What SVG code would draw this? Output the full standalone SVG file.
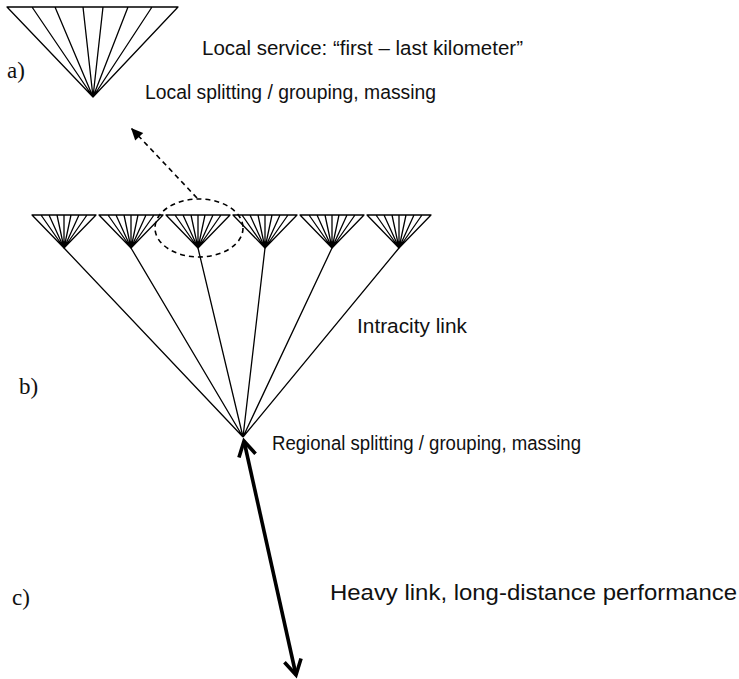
<svg xmlns="http://www.w3.org/2000/svg" width="739" height="679" viewBox="0 0 739 679">
  <style>
    .fan { fill: none; stroke: #000; stroke-width: 1.3; stroke-linecap: round; }
    .lbl { font-family: "Liberation Sans", Arial, sans-serif; font-size: 20px; fill: #111; }
    .tag { font-family: "Liberation Serif", "Times New Roman", serif; font-size: 23px; fill: #111; }
    .link { fill: none; stroke: #000; stroke-width: 1.3; }
    .heavy { fill: none; stroke: #000; stroke-width: 3.6; }
    .dash { fill: none; stroke: #000; stroke-width: 1.6; stroke-dasharray: 5 4; }
  </style>
  <defs>
    <marker id="chev" markerUnits="userSpaceOnUse" viewBox="-20 -15 30 30" markerWidth="30" markerHeight="30" refX="0" refY="0" orient="auto-start-reverse" overflow="visible">
      <path d="M-15,-8.5 L0,0 L-15,8.5" fill="none" stroke="#000" stroke-width="3.6" stroke-linejoin="miter" stroke-linecap="butt"/>
    </marker>
    <marker id="tri" markerUnits="userSpaceOnUse" viewBox="-14 -7 16 14" markerWidth="16" markerHeight="14" refX="0" refY="0" orient="auto" overflow="visible">
      <path d="M-12,-5.5 L0,0 L-12,5.5 Z" fill="#000"/>
    </marker>
    <g id="smallfan">
      <path d="M0,0 H64 M0,0 L32,33 M9,0 L32,33 M17,0 L32,33 M25,0 L32,33 M32,0 L32,33 M39,0 L32,33 M47,0 L32,33 M55,0 L32,33 M64,0 L32,33"/>
    </g>
  </defs>

  <g id="fan-a" class="fan">
    <path d="M7,7 H178 M7,7 L93,97 M32,7 L93,97 M55,7 L93,97 M83,7 L93,97 M103,7 L93,97 M128,7 L93,97 M152,7 L93,97 M178,7 L93,97"/>
  </g>

  <g id="fan-b1" class="fan"><use href="#smallfan" x="32" y="215"/></g>
  <g id="fan-b2" class="fan"><use href="#smallfan" x="99" y="215"/></g>
  <g id="fan-b3" class="fan"><use href="#smallfan" x="166" y="215"/></g>
  <g id="fan-b4" class="fan"><use href="#smallfan" x="233" y="215"/></g>
  <g id="fan-b5" class="fan"><use href="#smallfan" x="300" y="215"/></g>
  <g id="fan-b6" class="fan"><use href="#smallfan" x="367" y="215"/></g>

  <g id="highlight">
    <ellipse cx="199" cy="228" rx="44" ry="29" class="dash"/>
  </g>

  <g id="connectors">
    <path class="link" d="M64,248 L243,437 M131,248 L243,437 M198,248 L243,437 M265,248 L243,437 M332,248 L243,437 M399,248 L243,437"/>
    <path class="dash" d="M197,198 L131,128" marker-end="url(#tri)"/>
    <path class="heavy" d="M244,441 L296,675" marker-start="url(#chev)" marker-end="url(#chev)"/>
  </g>

  <g id="labels">
    <text class="tag" x="7" y="78">a)</text>
    <text class="tag" x="19" y="394">b)</text>
    <text class="tag" x="12" y="605">c)</text>
    <text class="lbl" x="202" y="55" style="font-size:20.5px" textLength="321" lengthAdjust="spacingAndGlyphs">Local service: “first – last kilometer”</text>
    <text class="lbl" x="145" y="99" style="font-size:20px" textLength="291" lengthAdjust="spacingAndGlyphs">Local splitting / grouping, massing</text>
    <text class="lbl" x="357" y="333" style="font-size:20.5px" textLength="110" lengthAdjust="spacingAndGlyphs">Intracity link</text>
    <text class="lbl" x="272" y="450" style="font-size:20px" textLength="309" lengthAdjust="spacingAndGlyphs">Regional splitting / grouping, massing</text>
    <text class="lbl" x="330" y="600" style="font-size:21.5px" textLength="407" lengthAdjust="spacingAndGlyphs">Heavy link, long-distance performance</text>
  </g>
</svg>
